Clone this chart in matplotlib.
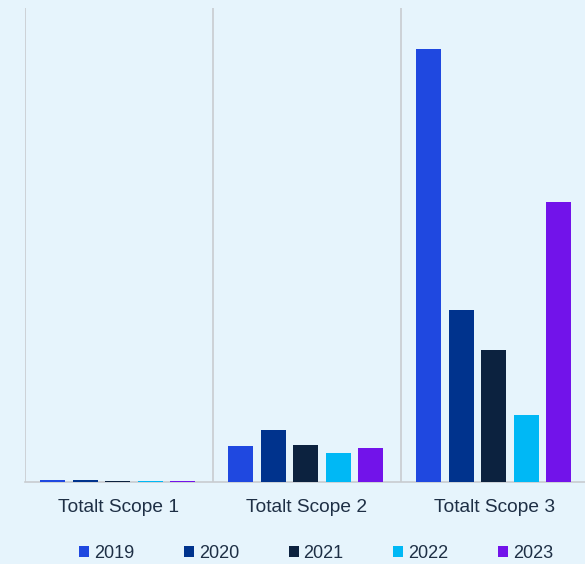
import numpy as np
import matplotlib.pyplot as plt
from matplotlib.patches import Patch

categories = ['Totalt Scope 1', 'Totalt Scope 2', 'Totalt Scope 3']
years = ['2019', '2020', '2021', '2022', '2023']
values_2019 = [200, 3600, 43300]
values_2020 = [200, 5200, 17200]
values_2021 = [150, 3700, 13200]
values_2022 = [150, 2900, 6700]
values_2023 = [150, 3400, 28000]
series = [values_2019, values_2020, values_2021, values_2022, values_2023]
colors = ['#1F48E0', '#00338D', '#0C223F', '#00B8F5', '#7213EA']

bg = '#E6F4FC'
text_col = '#1E2F45'
plt.rcParams['font.family'] = ['Liberation Sans', 'DejaVu Sans']

fig = plt.figure(figsize=(5.85, 5.64), dpi=100, facecolor=bg)
ax = fig.add_axes([25 / 585, 82 / 564, 564 / 585, 474 / 564])
ax.set_facecolor(bg)

x = np.arange(len(categories))
width = 25 / 188
step = 32.5 / 188
for i, (vals, c) in enumerate(zip(series, colors)):
    ax.bar(x + (i - 2) * step - 1.5 / 188, vals, width, color=c,
           linewidth=0, label=years[i], zorder=3)

ax.set_xlim(-0.5, 2.5)
ax.set_ylim(0, 47400)
ax.set_yticks([])
ax.set_xticks(x)
ax.set_xticklabels(categories, fontsize=13.8, color=text_col)
ax.tick_params(axis='x', length=0, pad=12)
for s in ['top', 'right', 'left']:
    ax.spines[s].set_visible(False)
ax.spines['bottom'].set_color('#C8CCD0')
ax.spines['bottom'].set_linewidth(1.2)
for b in [-0.5, 0.5, 1.5]:
    ax.axvline(b, color='#C8CCD0', linewidth=1.2, zorder=1)

handles = [Patch(facecolor=c, label=y) for c, y in zip(colors, years)]
fig.legend(handles=handles, loc='center', bbox_to_anchor=(316 / 585, 11 / 564),
           ncol=5, frameon=False, fontsize=13, handlelength=0.55,
           handleheight=0.55, handletextpad=0.28, columnspacing=2.75,
           labelcolor=text_col)

fig.savefig('out.png', dpi=100, facecolor=bg)
